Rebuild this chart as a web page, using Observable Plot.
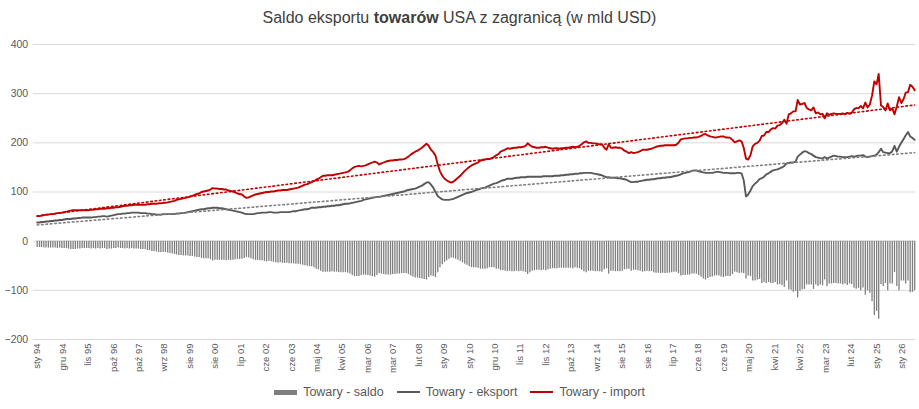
<!DOCTYPE html>
<html>
<head>
<meta charset="utf-8">
<script src="https://cdn.jsdelivr.net/npm/d3@7"></script>
<script src="https://cdn.jsdelivr.net/npm/@observablehq/plot@0.6"></script>
<style>
  body { margin: 0; background: #fff; font-family: "Liberation Sans", Arial, sans-serif; }
  #title { height: 30px; line-height: 36px; text-align: center; font-size: 16px; color: #404040; }
  #legend { display: flex; justify-content: center; gap: 13px; font-size: 12.5px; color: #595959; margin-top: 5px; }
  #legend span.item { display: flex; align-items: center; gap: 6px; }
</style>
</head>
<body>
<div id="title">Saldo eksportu <b>towarów</b> USA z zagranicą (w mld USD)</div>
<div id="chart"></div>
<div id="legend"></div>
<script>
// miesięczne dane od sty 1994
const startMonth = new Date(Date.UTC(1994, 0, 1));

const eksport = [
  38,38,39,39,40,40,41,41,42,42,43,43,
  44,45,45,45,46,46,47,47,48,48,48,48,
  48,49,49,50,50,51,51,50,51,52,53,54,
  55,55,56,56,57,57,58,58,58,58,57,57,
  57,56,56,55,55,54,54,54,55,55,55,55,
  55,55,56,56,57,57,58,59,60,61,62,63,
  64,65,65,66,67,67,68,68,68,67,67,66,
  65,64,63,62,61,60,59,58,56,55,55,55,
  55,56,57,57,58,58,58,59,59,58,58,58,
  59,59,59,59,59,60,61,61,62,63,64,65,
  65,66,68,68,68,69,69,70,70,71,71,72,
  72,73,73,74,75,76,76,77,78,79,80,81,
  82,84,85,86,87,88,89,90,90,91,92,93,
  94,95,96,97,98,99,100,101,103,104,105,106,
  107,109,111,113,116,119,120,115,109,100,92,88,
  85,84,84,84,85,86,88,90,92,94,96,98,
  99,100,102,104,105,107,108,109,111,113,115,117,
  118,120,122,124,125,127,127,127,128,129,129,130,
  130,130,131,131,131,131,131,131,131,132,132,132,
  132,132,133,133,133,134,134,135,135,136,136,137,
  137,138,138,139,139,139,139,138,137,136,135,134,
  132,130,130,129,129,129,128,128,127,126,125,122,
  120,120,121,121,122,123,124,125,125,126,126,127,
  128,128,129,129,130,130,131,132,133,134,136,138,
  139,140,141,143,144,144,142,141,140,139,139,139,
  139,140,141,141,140,139,139,139,138,138,138,139,
  139,138,124,91,95,103,112,117,121,126,128,131,
  136,138,141,144,145,146,148,150,153,158,159,160,
  160,162,172,176,180,183,182,179,177,174,171,170,
  169,168,171,168,170,172,174,173,172,172,171,171,
  171,172,173,172,173,174,174,175,172,171,172,173,
  174,176,181,188,181,180,179,179,183,194,182,192,
  200,208,215,222,213,210,206
];

const importy = [
  51,51,52,53,54,54,55,55,56,57,57,58,
  59,60,61,62,63,63,63,63,63,63,63,63,
  64,64,65,65,66,66,66,67,67,68,68,69,
  69,70,71,72,72,73,73,74,74,74,74,74,
  74,75,75,76,76,76,77,77,78,78,79,80,
  81,82,84,85,86,87,88,89,91,92,94,96,
  97,100,101,102,103,105,108,107,107,106,106,105,
  105,103,102,101,99,97,96,95,91,88,89,91,
  93,95,96,97,98,99,100,100,101,101,102,103,
  103,104,104,104,105,106,107,108,109,111,113,115,
  116,118,120,122,125,127,130,133,133,134,134,134,
  135,136,137,138,139,140,141,144,148,151,152,153,
  152,153,154,156,158,160,162,160,156,158,160,162,
  163,164,164,165,165,166,166,167,169,172,176,179,
  182,184,187,190,194,198,194,186,181,174,156,142,
  133,127,124,121,119,121,125,129,133,138,143,147,
  151,154,156,158,160,164,165,166,167,167,169,171,
  175,177,182,184,186,189,188,189,190,190,191,191,
  192,194,199,195,192,191,190,190,191,191,192,190,
  189,188,189,189,188,189,189,190,190,191,192,191,
  192,194,197,201,203,200,200,199,199,198,197,197,
  190,186,197,190,190,191,190,190,188,184,182,179,
  181,179,180,181,183,186,186,186,187,188,190,192,
  193,194,194,195,195,195,195,195,196,200,207,208,
  209,209,210,210,211,211,212,214,217,218,215,213,
  212,211,211,212,213,213,211,211,210,206,201,203,
  205,203,190,168,166,175,193,198,200,204,214,215,
  222,222,227,230,229,235,236,240,247,239,258,260,
  264,264,287,278,279,281,271,268,266,272,260,262,
  258,259,250,260,257,259,260,259,259,259,260,258,
  261,259,261,268,271,270,275,270,282,272,278,296,
  325,319,340,276,273,266,280,266,270,258,274,293,
  281,289,302,303,318,314,307
];

const saldo = [
  -13,-13,-13,-14,-14,-14,-14,-14,-14,-15,-14,-15,
  -15,-15,-16,-17,-17,-17,-16,-16,-15,-15,-15,-15,
  -16,-15,-16,-15,-16,-15,-15,-17,-16,-16,-15,-15,
  -14,-15,-15,-16,-15,-16,-15,-16,-16,-16,-17,-17,
  -17,-19,-19,-21,-21,-22,-23,-23,-23,-23,-24,-25,
  -26,-27,-28,-29,-29,-30,-30,-30,-31,-31,-32,-33,
  -33,-35,-36,-36,-36,-38,-40,-39,-39,-39,-39,-39,
  -40,-39,-39,-39,-38,-37,-37,-37,-35,-33,-34,-36,
  -38,-39,-39,-40,-40,-41,-42,-41,-42,-43,-44,-45,
  -44,-45,-45,-45,-46,-46,-46,-47,-47,-48,-49,-50,
  -51,-52,-52,-54,-57,-58,-61,-63,-63,-63,-63,-62,
  -63,-63,-64,-64,-64,-64,-65,-67,-70,-72,-72,-72,
  -70,-69,-69,-70,-71,-72,-73,-70,-66,-67,-68,-69,
  -69,-69,-68,-68,-67,-67,-66,-66,-66,-68,-71,-73,
  -75,-75,-76,-77,-78,-79,-74,-71,-72,-74,-64,-54,
  -48,-43,-40,-37,-34,-35,-37,-39,-41,-44,-47,-49,
  -52,-54,-54,-54,-55,-57,-57,-57,-56,-54,-54,-54,
  -57,-57,-60,-60,-61,-62,-61,-62,-62,-61,-62,-61,
  -62,-64,-68,-64,-61,-60,-59,-59,-60,-59,-60,-58,
  -57,-56,-56,-56,-55,-55,-55,-55,-55,-55,-56,-54,
  -55,-56,-59,-62,-64,-61,-61,-61,-62,-62,-62,-63,
  -58,-56,-67,-61,-61,-62,-62,-62,-61,-58,-57,-57,
  -61,-59,-59,-60,-61,-63,-62,-61,-62,-62,-64,-65,
  -65,-66,-65,-66,-65,-65,-64,-63,-63,-66,-71,-70,
  -70,-69,-69,-67,-67,-67,-70,-73,-77,-79,-76,-74,
  -73,-71,-70,-71,-73,-74,-72,-72,-72,-68,-63,-64,
  -66,-65,-66,-77,-71,-72,-81,-81,-79,-78,-86,-84,
  -86,-84,-86,-86,-84,-89,-88,-90,-94,-81,-99,-100,
  -104,-102,-115,-102,-99,-98,-89,-89,-89,-98,-89,-92,
  -89,-91,-79,-92,-87,-87,-86,-86,-87,-87,-89,-87,
  -90,-87,-88,-96,-98,-96,-101,-95,-110,-101,-106,-123,
  -151,-143,-159,-88,-92,-86,-101,-87,-87,-64,-92,-101,
  -81,-81,-87,-81,-105,-104,-101
];

const yTicks = [-200, -100, 0, 100, 200, 300, 400];

// etykiety osi X (co 344 dni, jak w Excelu)
const tickLabels = [
  "sty 94","gru 94","lis 95","paź 96","paź 97","wrz 98","sie 99","sie 00","lip 01",
  "cze 02","cze 03","maj 04","kwi 05","mar 06","mar 07","lut 08","sty 09","sty 10",
  "gru 10","lis 11","lis 12","paź 13","wrz 14","sie 15","sie 16","lip 17","cze 18",
  "cze 19","maj 20","kwi 21","kwi 22","mar 23","lut 24","sty 25","sty 26"
];
const tickStepDays = 344;

const months = eksport.map((_, i) => d3.utcMonth.offset(startMonth, i));
const data = months.map((d, i) => ({
  date: d, eksport: eksport[i], import: importy[i], saldo: saldo[i]
}));

const tickDates = tickLabels.map((_, i) => d3.utcDay.offset(startMonth, i * tickStepDays));
const labelByTime = new Map(tickDates.map((d, i) => [+d, tickLabels[i]]));

const chart = Plot.plot({
  width: 919,
  height: 350,
  marginLeft: 36.7,
  marginRight: 4.8,
  marginTop: 14,
  marginBottom: 41,
  style: { fontFamily: '"Liberation Sans", Arial, sans-serif', color: "#595959" },
  x: { type: "utc", domain: [months[0], months[months.length - 1]] },
  y: { domain: [-200, 400] },
  marks: [
    Plot.ruleY(yTicks, { stroke: "#d9d9d9", insetLeft: -4, insetRight: -1 }),
    Plot.ruleX(data, { x: "date", y1: 0, y2: "saldo", stroke: "#7f7f7f", strokeWidth: 1.3 }),
    Plot.lineY(data, { x: "date", y: "eksport", stroke: "#595959", strokeWidth: 1.9 }),
    Plot.lineY(data, { x: "date", y: "import", stroke: "#c00000", strokeWidth: 1.9 }),
    Plot.linearRegressionY(data, { x: "date", y: "import", stroke: "#c00000", ci: 0,
      strokeWidth: 1.6, strokeDasharray: "1.6 2.8" }),
    Plot.linearRegressionY(data, { x: "date", y: "eksport", stroke: "#7f7f7f", ci: 0,
      strokeWidth: 1.6, strokeDasharray: "1.6 2.8" }),
    Plot.axisY({ ticks: yTicks, tickSize: 0, tickPadding: 9, fontSize: 10.5, label: null }),
    Plot.axisX({ ticks: tickDates, tickFormat: d => labelByTime.get(+d), tickRotate: -90,
      tickSize: 0, tickPadding: 4, fontSize: 9.5, label: null })
  ]
});

d3.select('#chart').append(() => chart);

// legenda
const legendItems = [
  { name: "Towary - saldo", color: "#7f7f7f", h: 5 },
  { name: "Towary - eksport", color: "#595959", h: 2 },
  { name: "Towary - import", color: "#c00000", h: 2 }
];
const legend = d3.select('#legend');
legendItems.forEach(it => {
  const s = legend.append('span').attr('class', 'item');
  s.append('span').style('display', 'inline-block').style('width', '23px')
    .style('height', it.h + 'px').style('background', it.color);
  s.append('span').text(it.name);
});
</script>
</body>
</html>
